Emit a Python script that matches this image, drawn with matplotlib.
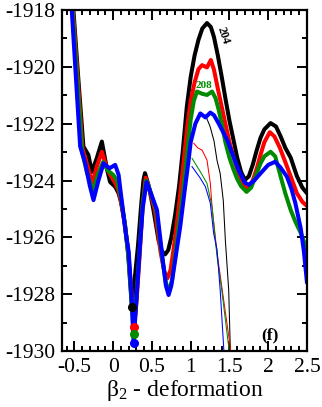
import matplotlib
matplotlib.use("Agg")
import matplotlib.pyplot as plt
from matplotlib.ticker import MultipleLocator, FuncFormatter

plt.rcParams['font.family'] = ['Liberation Serif', 'DejaVu Serif']
plt.rcParams['mathtext.fontset'] = 'custom'
plt.rcParams['mathtext.rm'] = 'Liberation Serif'
plt.rcParams['mathtext.default'] = 'regular'

# ---- data ----
black_b = [-0.58, -0.513, -0.45, -0.384, -0.32, -0.275, -0.21, -0.146, -0.08, -0.04, 0.026, 0.07, 0.10, 0.15, 0.19,
           0.241, 0.28, 0.32, 0.36, 0.39, 0.41, 0.46, 0.52, 0.585, 0.63, 0.67, 0.71, 0.75, 0.80, 0.85, 0.90, 0.95,
           1.00, 1.05, 1.10, 1.15, 1.21, 1.26, 1.30, 1.35, 1.40, 1.45, 1.50, 1.55, 1.60, 1.65, 1.70, 1.75, 1.80,
           1.85, 1.90, 1.95, 2.03, 2.10, 2.16, 2.22, 2.29, 2.37, 2.44, 2.50]
black_e = [-1915.4, -1918.0, -1920.4, -1922.8, -1923.1, -1923.7, -1923.2, -1922.63, -1923.6, -1924.05, -1924.22,
           -1924.45, -1924.75, -1925.5, -1926.45, -1928.46, -1927.4, -1926.3, -1924.9, -1924.0, -1923.74, -1924.2,
           -1925.04, -1926.1, -1926.5, -1926.6, -1926.45, -1926.0, -1925.2, -1924.2, -1922.9, -1921.4, -1920.35,
           -1919.6, -1919.05, -1918.65, -1918.46, -1918.6, -1918.95, -1919.6, -1920.35, -1921.15, -1921.9,
           -1922.55, -1923.2, -1923.7, -1923.98, -1923.85, -1923.45, -1922.95, -1922.5, -1922.2, -1921.98,
           -1922.1, -1922.45, -1922.85, -1923.2, -1923.85, -1924.25, -1924.45]

red_b = [-0.58, -0.52, -0.455, -0.395, -0.34, -0.27, -0.21, -0.146, -0.10, -0.05, 0.02, 0.07, 0.11, 0.16, 0.20,
         0.235, 0.271, 0.30, 0.34, 0.38, 0.42, 0.47, 0.54, 0.61, 0.66, 0.70, 0.74, 0.78, 0.82, 0.86, 0.91, 0.96,
         1.00, 1.05, 1.10, 1.146, 1.21, 1.26, 1.30, 1.36, 1.40, 1.447, 1.50, 1.55, 1.60, 1.65, 1.70, 1.75, 1.80,
         1.85, 1.90, 1.95, 2.02, 2.08, 2.15, 2.22, 2.29, 2.37, 2.44, 2.50]
red_e = [-1915.6, -1918.0, -1920.5, -1922.9, -1923.4, -1924.1, -1923.5, -1922.99, -1923.4, -1923.75, -1924.05,
         -1924.35, -1924.85, -1925.75, -1926.7, -1927.9, -1929.17, -1928.3, -1926.7, -1924.9, -1923.9, -1924.35,
         -1925.05, -1926.5, -1927.2, -1927.44, -1927.15, -1926.4, -1925.55, -1924.6, -1923.3, -1922.0, -1921.2,
         -1920.55, -1920.08, -1919.94, -1920.02, -1919.76, -1920.1, -1920.9, -1921.4, -1922.0, -1922.65,
         -1923.15, -1923.6, -1924.0, -1924.25, -1924.25, -1924.0, -1923.6, -1923.1, -1922.65, -1922.3,
         -1922.45, -1922.85, -1923.35, -1923.86, -1924.45, -1924.75, -1924.9]

green_b = [-0.58, -0.525, -0.46, -0.40, -0.34, -0.26, -0.20, -0.13, -0.07, 0.0, 0.05, 0.10, 0.15, 0.20, 0.235,
           0.263, 0.295, 0.34, 0.38, 0.425, 0.47, 0.555, 0.63, 0.68, 0.72, 0.76, 0.80, 0.85, 0.90, 0.95, 1.00,
           1.04, 1.08, 1.15, 1.21, 1.275, 1.32, 1.36, 1.40, 1.447, 1.50, 1.55, 1.60, 1.65, 1.72, 1.78, 1.85,
           1.90, 1.95, 2.03, 2.09, 2.16, 2.22, 2.29, 2.35, 2.42, 2.50]
green_e = [-1915.8, -1918.0, -1920.6, -1923.0, -1923.7, -1924.4, -1923.8, -1923.35, -1923.65, -1923.8, -1924.0,
           -1924.6, -1925.5, -1926.8, -1928.1, -1929.4, -1928.3, -1926.5, -1924.85, -1924.0, -1924.3, -1925.05,
           -1926.7, -1927.6, -1927.9, -1927.5, -1926.6, -1925.5, -1924.4, -1923.1, -1921.85, -1921.2, -1920.87,
           -1920.95, -1920.99, -1920.87, -1921.1, -1921.5, -1922.0, -1922.65, -1923.2, -1923.6, -1923.95,
           -1924.2, -1924.4, -1924.25, -1923.75, -1923.4, -1923.15, -1922.99, -1923.15, -1923.86, -1924.45,
           -1925.04, -1925.45, -1925.85, -1926.45]

blue_b = [-0.58, -0.534, -0.48, -0.426, -0.36, -0.30, -0.254, -0.19, -0.125, -0.047, 0.026, 0.07, 0.11, 0.16,
          0.20, 0.24, 0.263, 0.295, 0.34, 0.38, 0.43, 0.48, 0.565, 0.64, 0.68, 0.715, 0.75, 0.80, 0.866, 0.92,
          0.973, 1.00, 1.06, 1.124, 1.19, 1.253, 1.30, 1.36, 1.47, 1.55, 1.62, 1.70, 1.75, 1.82, 1.90, 2.00,
          2.09, 2.16, 2.24, 2.30, 2.35, 2.42, 2.46, 2.50]
blue_e = [-1916.2, -1918.0, -1920.4, -1922.8, -1923.4, -1924.2, -1924.69, -1924.0, -1923.4, -1923.57, -1923.45,
          -1923.8, -1924.7, -1925.8, -1926.5, -1928.2, -1929.71, -1928.4, -1926.5, -1925.0, -1924.05, -1924.4,
          -1925.04, -1926.8, -1927.7, -1928.03, -1927.7, -1926.8, -1925.6, -1924.4, -1923.28, -1922.65,
          -1922.0, -1921.64, -1921.78, -1921.61, -1921.7, -1921.99, -1922.57, -1923.15, -1923.65, -1924.08,
          -1924.15, -1924.0, -1923.75, -1923.45, -1923.34, -1923.55, -1923.86, -1924.3, -1924.8, -1925.7,
          -1926.5, -1927.6]

# thin curves
tblack_b = [1.19, 1.25, 1.30, 1.34, 1.38, 1.42, 1.447, 1.49, 1.51, 1.52]
tblack_e = [-1921.7, -1922.1, -1922.6, -1923.3, -1923.75, -1924.7, -1926.1, -1927.85, -1929.85, -1930.5]
tred_b = [1.04, 1.09, 1.146, 1.21, 1.253, 1.275, 1.34, 1.425, 1.51, 1.52]
tred_e = [-1922.69, -1922.85, -1922.93, -1923.28, -1924.1, -1924.92, -1926.56, -1928.2, -1929.85, -1930.5]
tgreen_b = [1.017, 1.124, 1.21, 1.275, 1.296, 1.34, 1.40, 1.49, 1.50]
tgreen_e = [-1923.22, -1923.69, -1924.1, -1924.92, -1925.5, -1926.68, -1927.85, -1929.85, -1930.5]
tblue_b = [1.017, 1.124, 1.19, 1.253, 1.296, 1.34, 1.38, 1.425, 1.435]
tblue_e = [-1923.51, -1923.92, -1924.22, -1924.8, -1925.86, -1926.44, -1927.85, -1929.85, -1930.5]

# minima dots
dot_b = [0.241, 0.271, 0.263, 0.263]
dot_e = [-1928.46, -1929.17, -1929.4, -1929.71]

colors = ['black', '#ff0000', '#008b00', '#0000ff']

fig = plt.figure(figsize=(3.22, 4.07), dpi=100)
ax = fig.add_axes([62/322, 1-351/407, 245/322, 341/407])

thick = [(black_b, black_e), (red_b, red_e), (green_b, green_e), (blue_b, blue_e)]
thin = [(tblack_b, tblack_e), (tred_b, tred_e), (tgreen_b, tgreen_e), (tblue_b, tblue_e)]
for (b, e), c in zip(thin, colors):
    ax.plot(b, e, color=c, lw=0.75, solid_joinstyle='round')
for (b, e), c in zip(thick, colors):
    ax.plot(b, e, color=c, lw=2.9, solid_joinstyle='round', solid_capstyle='round')
for b, e, c in zip(dot_b, dot_e, colors):
    ax.plot([b], [e], 'o', color=c, ms=5.5, zorder=5)

ax.set_xlim(-0.66, 2.5)
ax.set_ylim(-1930, -1918)
ax.xaxis.set_major_locator(MultipleLocator(0.5))
ax.xaxis.set_minor_locator(MultipleLocator(0.1))
ax.yaxis.set_major_locator(MultipleLocator(2))
ax.yaxis.set_minor_locator(MultipleLocator(1))
ax.xaxis.set_major_formatter(FuncFormatter(lambda v, p: ('%g' % v).replace('\u2212', '-')))
ax.yaxis.set_major_formatter(FuncFormatter(lambda v, p: '%d' % round(v)))
ax.tick_params(which='both', direction='in', top=True, right=True, width=1.4, labelsize=15.5)
ax.tick_params(which='major', length=7, pad=5)
ax.tick_params(which='minor', length=3.6)
for s in ax.spines.values():
    s.set_linewidth(1.6)

ax.set_xlabel(r'β$_2$ - deformation', fontsize=17, labelpad=1)

ax.text(1.42, -1918.9, '204', rotation=-72, fontsize=8.5, fontweight='bold', color='black',
        ha='center', va='center')
ax.text(1.17, -1920.65, '208', fontsize=8, fontweight='bold', color='#008b00', ha='center', va='center')
ax.text(2.02, -1929.45, '(f)', fontsize=12.5, fontweight='bold', color='black', ha='center', va='center')

fig.savefig('out.png', dpi=100)
